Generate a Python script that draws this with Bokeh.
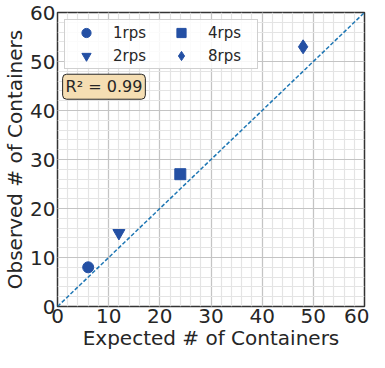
from bokeh.plotting import figure
from bokeh.models import Range1d, SingleIntervalTicker, Legend, LegendItem, Label
from bokeh.embed import file_html
from bokeh.resources import INLINE

labels = ["1rps", "2rps", "4rps", "8rps"]
expected = [6, 12, 24, 48]
observed = [8, 15, 27, 53]
markers = ["circle", "inverted_triangle", "square", "diamond"]
sizes = [11, 12, 11, 14]
diag = [0, 60]

FONT = "DejaVu Sans"
COLOR = "#2450a4"
TXT = "#262626"

p = figure(width=369, height=352, output_backend="svg", toolbar_location=None,
           x_range=Range1d(0, 60), y_range=Range1d(0, 60),
           min_border_left=51, min_border_right=5, min_border_top=12, min_border_bottom=0)

p.background_fill_color = "white"
p.outline_line_color = "#333333"
p.outline_line_width = 1.5

for ax in (p.xaxis[0], p.yaxis[0]):
    ax.ticker = SingleIntervalTicker(interval=10, num_minor_ticks=5)
    ax.major_tick_line_color = None
    ax.minor_tick_line_color = None
    ax.major_tick_in = 0
    ax.major_tick_out = 0
    ax.minor_tick_in = 0
    ax.minor_tick_out = 0
    ax.axis_line_color = None
    ax.major_label_text_font = FONT
    ax.major_label_text_font_size = "20px"
    ax.major_label_text_color = TXT
    ax.axis_label_text_font = FONT
    ax.axis_label_text_font_size = "20px"
    ax.axis_label_text_font_style = "normal"
    ax.axis_label_text_color = TXT
    ax.major_label_standoff = 2
    ax.axis_label_standoff = 0

p.xaxis.axis_label = "Expected # of Containers"
p.yaxis.axis_label = "Observed # of Containers"

for g in (p.xgrid[0], p.ygrid[0]):
    g.ticker = SingleIntervalTicker(interval=10, num_minor_ticks=5)
    g.grid_line_color = "#c4c4c4"
    g.grid_line_width = 1.2
    g.minor_grid_line_color = "#e4e4e4"
    g.minor_grid_line_width = 1.2

p.line(diag, diag, line_color="#1f77b4", line_dash="4 2", line_width=1.5)

items = []
for lab, x, y, m, s in zip(labels, expected, observed, markers, sizes):
    r = p.scatter([x], [y], marker=m, size=s, fill_color=COLOR, line_color=COLOR)
    items.append(LegendItem(label=lab, renderers=[r]))

legend = Legend(items=items, ncols=2,
                location="top_left",
                label_text_font=FONT, label_text_font_size="15px",
                label_text_color=TXT,
                border_line_color="#d0d0d0", border_line_alpha=1,
                background_fill_alpha=0.85,
                glyph_width=40, glyph_height=23, label_standoff=7,
                label_width=48, label_height=18,
                spacing=0, padding=1, margin=7)
p.add_layout(legend)

lbl = Label(x=1.0, y=42.3, text="R² = 0.99",
            text_font=FONT, text_font_size="16px", text_color=TXT,
            background_fill_color="#f5deb3", border_line_color=TXT,
            border_line_width=1, padding=3, border_radius=4)
p.add_layout(lbl)

open("out.html", "w").write(file_html(p, INLINE))
